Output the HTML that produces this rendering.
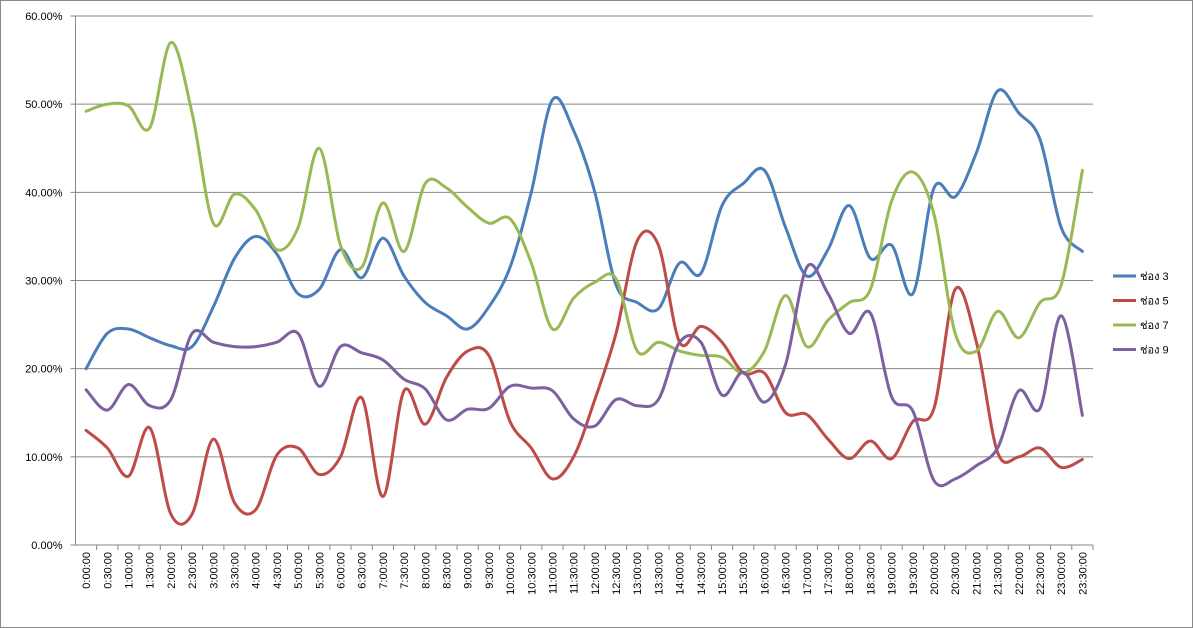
<!DOCTYPE html>
<html><head><meta charset="utf-8"><style>
body{margin:0;background:#fff}
svg{display:block;font-family:"Liberation Sans","Noto Sans CJK SC",sans-serif}
</style></head><body>
<svg id="c" width="1193" height="628">
<rect x="0.5" y="0.5" width="1192" height="627" fill="#fff" stroke="#888"/>
</svg>
<script>
const categories=[];for(let h=0;h<24;h++){categories.push(h+':00:00');categories.push(h+':30:00');}
const seriesNames=['ช่อง 3','ช่อง 5','ช่อง 7','ช่อง 9'];
const colors=['#4a7ebb','#be4b48','#98b954','#7d60a0'];
const ch3=[20,24,24.5,23.5,22.6,22.5,27,32.5,35,33,28.5,29,33.5,30.3,34.8,30.5,27.5,26,24.5,27,31.5,40,50.5,47,40,29.5,27.5,26.8,32,30.8,38.5,41,42.5,36,30.5,33.5,38.5,32.5,34,28.5,40.5,39.5,44.5,51.5,49,46,36,33.3];
const ch5=[13,11,7.8,13.3,3.5,3.5,12,4.8,4,10.2,11,8,10,16.7,5.5,17.5,13.7,19,22,21.5,14,11,7.5,10,16.5,24,34.5,34,23,24.8,23,19.5,19.5,15,14.8,12,9.8,11.8,9.8,14,15.5,29,23,10.5,10,11,8.8,9.7];
const ch7=[49.2,50,49.8,47.3,57,49,36.5,39.8,38,33.5,36,45,34,31.5,38.8,33.3,41,40.5,38.3,36.5,37,32,24.5,28,29.8,30.2,22,23,22,21.5,21.3,19.5,22,28.3,22.5,25.5,27.5,29,39,42.3,37.5,24,22,26.5,23.5,27.5,29.5,42.5];
const ch9=[17.6,15.3,18.2,15.8,16.5,24,23,22.5,22.5,23,24,18,22.5,21.8,21,18.8,17.7,14.2,15.4,15.5,18,17.8,17.5,14.3,13.5,16.5,15.8,16.5,23,23,17,19.6,16.2,20.5,31.5,28.5,24,26.3,16.8,15.2,7.3,7.5,9,11,17.5,15.5,26,14.7];
const yTicks=[0,10,20,30,40,50,60];
const series=[ch3,ch5,ch7,ch9];
const NS='http://www.w3.org/2000/svg';
const svg=document.getElementById('c');
const L=75.5,R=1093,T=16,B=545,yMax=60;
const step=(R-L)/categories.length;
const x=i=>L+step*(i+0.5);
const y=v=>B-(v/yMax)*(B-T);
function mk(t,a){const e=document.createElementNS(NS,t);for(const k in a)e.setAttribute(k,a[k]);svg.appendChild(e);return e;}
yTicks.forEach(t=>{
  if(t>0){const g=mk('line',{x1:L,x2:R,y1:y(t),y2:y(t),stroke:'#868686','stroke-width':1});
  
  }
  const tk=mk('line',{x1:L-5,x2:L,y1:y(t),y2:y(t),stroke:'#868686'});
  
  
  const tx=mk('text',{x:L-13,y:y(t)+4,'text-anchor':'end','font-size':11,fill:'#000'});
  tx.textContent=t.toFixed(2)+'%';
  
  
});
const ax=mk('line',{x1:L,x2:L,y1:T,y2:B,stroke:'#868686'});


const bx=mk('line',{x1:L,x2:R,y1:B,y2:B,stroke:'#868686'});


categories.forEach((c,i)=>{
  const tk=mk('line',{x1:L+step*(i+1),x2:L+step*(i+1),y1:B,y2:B+5,stroke:'#868686'});
  
  
  const t=mk('text',{x:0,y:0,'text-anchor':'end','font-size':11,fill:'#000',transform:`translate(${x(i)+4},${B+7}) rotate(-90)`});
  t.textContent=c;
  
  
});
function path(d){const p=d.map((v,i)=>[x(i),y(v)]);let s=`M${p[0][0]},${p[0][1]}`;
  for(let i=0;i<p.length-1;i++){const p0=p[i-1]||p[i],p1=p[i],p2=p[i+1],p3=p[i+2]||p2;
    const c1=[p1[0]+(p2[0]-p0[0])/6,p1[1]+(p2[1]-p0[1])/6],c2=[p2[0]-(p3[0]-p1[0])/6,p2[1]-(p3[1]-p1[1])/6];
    s+=` C${c1[0]},${c1[1]} ${c2[0]},${c2[1]} ${p2[0]},${p2[1]}`;}return s;}
series.forEach((d,k)=>{
  const p=mk('path',{d:path(d),fill:'none',stroke:colors[k],'stroke-width':3,'stroke-linejoin':'round','stroke-linecap':'round'});
  
  
  const ly=276+k*24.5;
  const l=mk('line',{x1:1113,x2:1136,y1:ly,y2:ly,stroke:colors[k],'stroke-width':3});
  
  
  const t=mk('text',{x:1140,y:ly+4,'font-size':11,fill:'#000'});
  t.textContent=seriesNames[k];
  
  
});
</script>
</body></html>
